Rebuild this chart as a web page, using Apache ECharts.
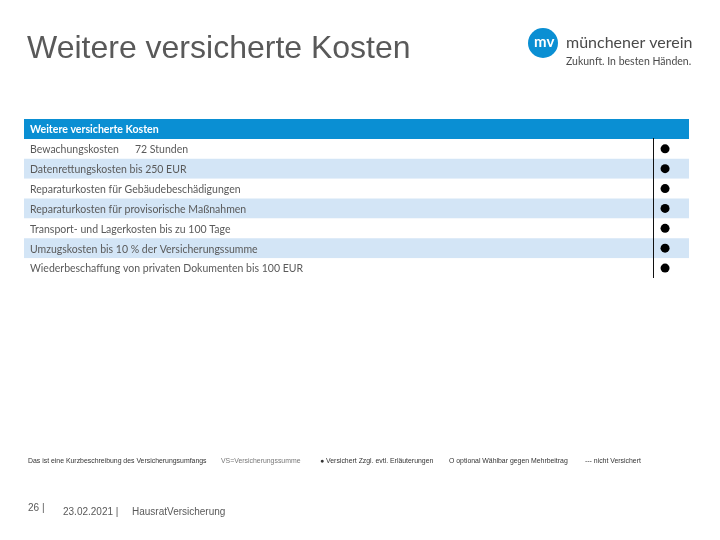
<!DOCTYPE html>
<html>
<head>
    <meta charset="utf-8">
    <title>Weitere versicherte Kosten</title>
    <script src="https://cdn.jsdelivr.net/npm/echarts@6/dist/echarts.min.js"></script>
    <style>
        html, body { margin: 0; padding: 0; background: #fff; }
        #chart-container { width: 720px; height: 540px; }
    </style>
</head>
<body>
<div id="chart-container"></div>

<script>
    var myChart = echarts.init(document.getElementById('chart-container'));

    // table rows, the first one is the header
    var categories = [
        'Weitere versicherte Kosten',
        'Bewachungskosten      72 Stunden',
        'Datenrettungskosten bis 250 EUR',
        'Reparaturkosten für Gebäudebeschädigungen',
        'Reparaturkosten für provisorische Maßnahmen',
        'Transport- und Lagerkosten bis zu 100 Tage',
        'Umzugskosten bis 10 % der Versicherungssumme',
        'Wiederbeschaffung von privaten Dokumenten bis 100 EUR'
    ];
    var rowWidth = [100, 100, 100, 100, 100, 100, 100, 100];
    var rowColors = ['#0a8fd3', '#ffffff', '#d3e5f6', '#ffffff', '#d3e5f6', '#ffffff', '#d3e5f6', '#ffffff'];
    // column of the "versichert" dots
    var dotColumn = [null, 96.4, 96.4, 96.4, 96.4, 96.4, 96.4, 96.4];
    var dividerColumn = 94.6;

    var footerNotes = [
        { text: 'Das ist eine Kurzbeschreibung des Versicherungsumfangs', x: 28 },
        { text: 'VS=Versicherungssumme', x: 221 },
        { text: '● Versichert Zzgl. evtl. Erläuterungen', x: 320 },
        { text: 'O optional Wählbar gegen Mehrbeitrag', x: 449 },
        { text: '--- nicht Versichert', x: 585 }
    ];

    var sansFont = '"Liberation Sans", Arial, sans-serif';
    var rowFont = 'Lato, "Open Sans", sans-serif';

    var graphics = [
        // the last row is cut off in the slide
        { type: 'rect', shape: { x: 24, y: 274, width: 628, height: 6 }, style: { fill: '#fff' }, z: 20 },
        { type: 'text', x: 27, y: 33, style: { text: 'Weitere versicherte Kosten', fill: '#595959', font: '32px ' + sansFont } },
        // logo
        { type: 'circle', shape: { cx: 543, cy: 43, r: 15 }, style: { fill: '#0a8fd3' } },
        { type: 'text', x: 534, y: 35, style: { text: 'mv', fill: '#fff', font: 'bold 15px ' + rowFont } },
        { type: 'text', x: 566, y: 35, style: { text: 'münchener verein', fill: '#4a4a4a', font: '16px ' + rowFont } },
        { type: 'text', x: 566, y: 56, style: { text: 'Zukunft. In besten Händen.', fill: '#4a4a4a', font: '10.5px ' + rowFont } },
        // page footer
        { type: 'text', x: 28, y: 503, style: { text: '26 |', fill: '#595959', font: '10px ' + sansFont } },
        { type: 'text', x: 63, y: 507, style: { text: '23.02.2021 |', fill: '#595959', font: '10px ' + sansFont } },
        { type: 'text', x: 132, y: 507, style: { text: 'HausratVersicherung', fill: '#595959', font: '10px ' + sansFont } }
    ];
    footerNotes.forEach(function (n, i) {
        graphics.push({
            type: 'text', x: n.x, y: 458,
            style: { text: n.text, fill: i === 1 ? '#777' : '#333', font: '6.9px ' + sansFont }
        });
    });

    var option = {
        animation: false,
        grid: { left: 24, right: 31, top: 119, height: 159 },
        xAxis: { type: 'value', min: 0, max: 100, show: false },
        yAxis: { type: 'category', inverse: true, data: categories, show: false },
        graphic: graphics,
        series: [
            {
                type: 'bar',
                barWidth: '100%',
                data: rowWidth.map(function (v, i) {
                    return {
                        value: v,
                        itemStyle: { color: rowColors[i] },
                        label: i === 0
                            ? { color: '#fff', fontWeight: 'bold', fontSize: 10.6 }
                            : { color: '#5a5a5a', fontSize: 10.5 }
                    };
                }),
                label: {
                    show: true,
                    position: 'insideLeft',
                    distance: 6,
                    offset: [0, 1],
                    fontFamily: rowFont,
                    formatter: function (p) { return categories[p.dataIndex]; }
                },
                markLine: {
                    silent: true,
                    symbol: 'none',
                    label: { show: false },
                    lineStyle: { color: '#111', width: 1, type: 'solid' },
                    data: [[
                        { coord: [dividerColumn, categories[1]], y: 138 },
                        { coord: [dividerColumn, categories[7]], y: 278 }
                    ]]
                }
            },
            {
                type: 'scatter',
                symbol: 'circle',
                symbolSize: 9,
                itemStyle: { color: '#000', opacity: 1 },
                data: dotColumn.map(function (x, i) {
                    return x === null ? null : [x, categories[i]];
                }).filter(Boolean)
            }
        ]
    };

    myChart.setOption(option);
</script>
</body>
</html>
